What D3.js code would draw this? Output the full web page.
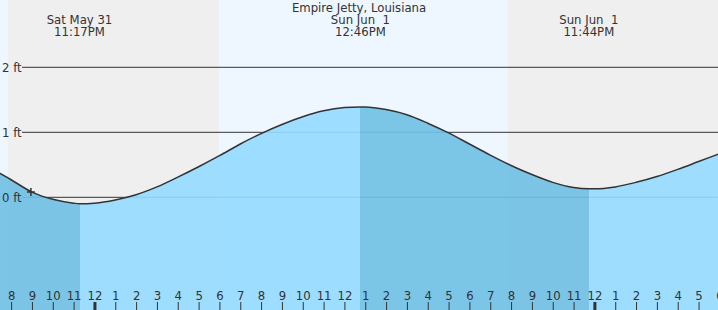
<!DOCTYPE html>
<html>
<head>
<style>
  body { margin: 0; background: #fff; }
  text { font-family: "DejaVu Sans", sans-serif; font-size: 11.7px; fill: #333; }
</style>
<script src="https://d3js.org/d3.v7.min.js"></script>
<title>Empire Jetty, Louisiana</title>
</head>
<body>
<svg width="718" height="310"></svg>
<script>
// hourly tide readings, hours from midnight Sun Jun 1
var hourOffsets = [-5, -4, -3, -2, -1, 0, 1, 2, 3, 4, 5, 6, 7, 8, 9, 10, 11, 12,
    13, 14, 15, 16, 17, 18, 19, 20, 21, 22, 23, 24, 25, 26, 27, 28, 29, 30];
var heights = [0.45, 0.27, 0.08, -0.03, -0.09, -0.09, -0.04, 0.04, 0.16, 0.31, 0.47, 0.64, 0.82, 0.98, 1.12, 1.24, 1.33, 1.38,
    1.39, 1.35, 1.27, 1.14, 0.99, 0.82, 0.65, 0.49, 0.35, 0.23, 0.15, 0.13, 0.16, 0.23, 0.32, 0.43, 0.55, 0.67];

// high / low tide events
var eventTimes = ["2025-05-31T23:17", "2025-06-01T12:46", "2025-06-01T23:44"];
var eventHeights = [-0.10, 1.39, 0.13];
var eventTypes = ["L", "H", "L"];

// sun
var sunsetTimes = ["2025-05-31T19:51", "2025-06-01T19:51"];
var sunriseTimes = ["2025-06-01T05:59", "2025-06-02T05:59"];

// current time marker
var nowTime = "2025-05-31T20:57";
var nowHeight = 0.08;

var yTicks = [0, 1, 2];
var title = "Empire Jetty, Louisiana";

var parse = d3.timeParse("%Y-%m-%dT%H:%M");
var base = parse("2025-06-01T00:00");
var W = 718, H = 310;

var svg = d3.select("svg");

var x = d3.scaleTime()
    .domain([parse("2025-05-31T19:28"), parse("2025-06-02T05:56")])
    .range([0, W]);
var y = d3.scaleLinear().domain([0, 2]).range([197.3, 67.3]);

// points: hourly readings plus tide events
var points = hourOffsets.map(function (h, i) {
    return { t: new Date(base.getTime() + h * 3600e3), v: heights[i] };
});
eventTimes.forEach(function (s, i) {
    points.push({ t: parse(s), v: eventHeights[i] });
});
points.sort(function (a, b) { return a.t - b.t; });

// day background
svg.append("rect").attr("x", 0).attr("y", 0).attr("width", W).attr("height", H)
    .attr("fill", "#eef7ff");

// night bands
sunsetTimes.forEach(function (s, i) {
    var x0 = Math.max(0, x(parse(s)));
    var x1 = Math.min(W, x(parse(sunriseTimes[i])));
    svg.append("rect").attr("x", x0).attr("y", 0).attr("width", x1 - x0).attr("height", H)
        .attr("fill", "#efefef");
});

// grid lines
svg.append("g").selectAll("line").data(yTicks).enter().append("line")
    .attr("x1", 22).attr("x2", W)
    .attr("y1", function (d) { return y(d); })
    .attr("y2", function (d) { return y(d); })
    .attr("stroke", "#333").attr("stroke-width", 1);

// fill gradient: falling tide darker, rising tide lighter
var grad = svg.append("defs").append("linearGradient")
    .attr("id", "tideFill")
    .attr("gradientUnits", "userSpaceOnUse")
    .attr("x1", 0).attr("x2", W).attr("y1", 0).attr("y2", 0);
var light = "#95dbff", dark = "#70c0e5";
var prev = eventTypes[0] === "L" ? dark : light;
grad.append("stop").attr("offset", 0).attr("stop-color", prev);
eventTimes.forEach(function (s, i) {
    var off = x(parse(s)) / W;
    var next = eventTypes[i] === "L" ? light : dark;
    grad.append("stop").attr("offset", off).attr("stop-color", prev);
    grad.append("stop").attr("offset", off).attr("stop-color", next);
    prev = next;
});
grad.append("stop").attr("offset", 1).attr("stop-color", prev);

var area = d3.area()
    .x(function (d) { return x(d.t); })
    .y0(H)
    .y1(function (d) { return y(d.v); })
    .curve(d3.curveMonotoneX);

svg.append("path").datum(points)
    .attr("d", area)
    .attr("fill", "url(#tideFill)")
    .attr("fill-opacity", 0.91);

var line = d3.line()
    .x(function (d) { return x(d.t); })
    .y(function (d) { return y(d.v); })
    .curve(d3.curveMonotoneX);

svg.append("path").datum(points)
    .attr("d", line)
    .attr("fill", "none")
    .attr("stroke", "#333")
    .attr("stroke-width", 1.5);

// y labels on top of the fill
svg.append("g").selectAll("text").data(yTicks).enter().append("text")
    .attr("x", 2)
    .attr("y", function (d) { return y(d) + 4.3; })
    .text(function (d) { return d + " ft"; });

// current time plus
var px = x(parse(nowTime)), py = y(nowHeight);
svg.append("path")
    .attr("d", "M" + (px - 4) + "," + py + "H" + (px + 4) + "M" + px + "," + (py - 4) + "V" + (py + 4))
    .attr("stroke", "#333").attr("stroke-width", 1.5);

// header text
svg.append("text").attr("x", W / 2).attr("y", 12)
    .attr("text-anchor", "middle").text(title);

var fmtDay = d3.timeFormat("%a %b %e"), fmtTime = d3.timeFormat("%-I:%M%p");
var heads = svg.append("g").selectAll("g").data(eventTimes).enter().append("g");
heads.append("text")
    .attr("x", function (d) { return x(parse(d)); })
    .attr("y", 24)
    .attr("text-anchor", "middle")
    .style("white-space", "pre")
    .text(function (d) { return fmtDay(parse(d)); });
heads.append("text")
    .attr("x", function (d) { return x(parse(d)); })
    .attr("y", 36)
    .attr("text-anchor", "middle")
    .text(function (d) { return fmtTime(parse(d)); });

// hour axis
var hourTicks = d3.timeHour.range(d3.timeHour.ceil(x.domain()[0]), d3.timeHour.offset(x.domain()[1], 1));
var axis = svg.append("g")
    .attr("transform", "translate(0," + H + ")")
    .call(d3.axisTop(x).tickValues(hourTicks).tickSize(8).tickPadding(2)
        .tickFormat(d3.timeFormat("%-I")));
axis.select(".domain").remove();
axis.selectAll("line").attr("stroke", "#333")
    .attr("stroke-width", function (d) { return d.getHours() === 0 ? 3 : 1; });
axis.selectAll("text")
    .style("font-family", "'DejaVu Sans', sans-serif")
    .style("font-size", "11.7px")
    .attr("fill", "#333");
axis.attr("font-family", null).attr("font-size", null);
</script>
</body>
</html>
